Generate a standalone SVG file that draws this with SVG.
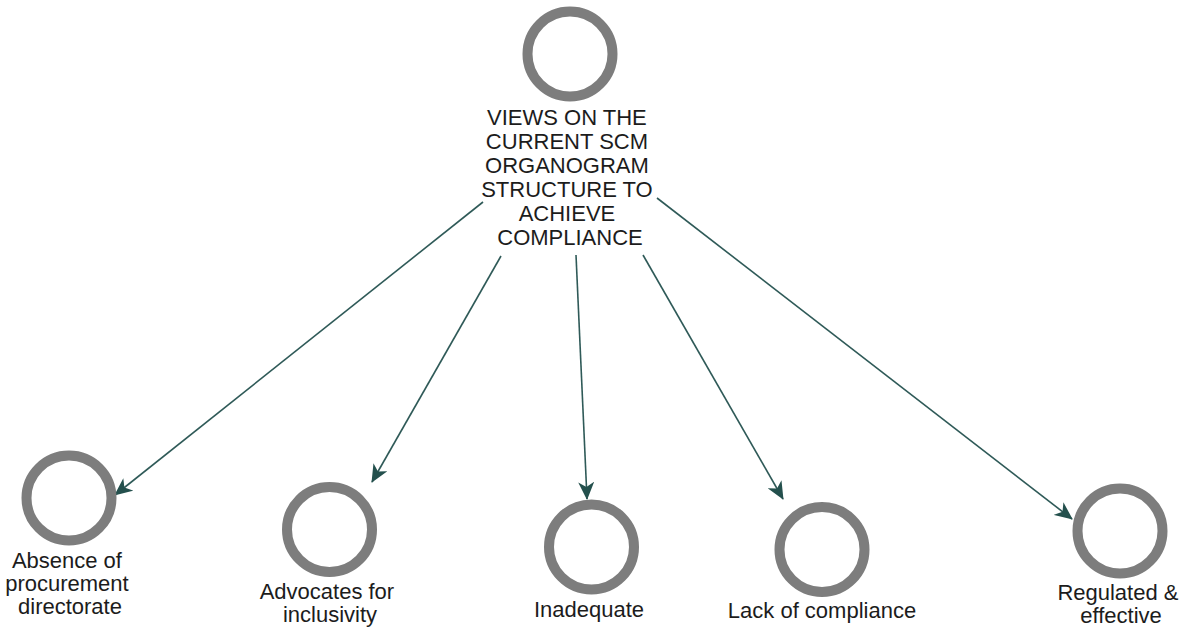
<svg xmlns="http://www.w3.org/2000/svg" width="1192" height="635" viewBox="0 0 1192 635">
  <style>
    .ring { fill: #ffffff; stroke: #7d7d7d; stroke-width: 10; }
    .label { font-family: "Liberation Sans", Arial, sans-serif; font-size: 22px; fill: #1c1c1c; text-anchor: middle; }
    .title { font-size: 22px; }
    .edge { stroke: #2f5a58; stroke-width: 1.6; fill: none; marker-end: url(#arrow); }
  </style>
  <defs>
    <marker id="arrow" markerUnits="userSpaceOnUse" markerWidth="18" markerHeight="16" viewBox="0 0 18 16" refX="17" refY="8" orient="auto">
      <path d="M0,0 L18,8 L0,16 L5,8 Z" fill="#24504d"/>
    </marker>
  </defs>

  <rect width="1192" height="635" fill="#ffffff"/>

  <!-- connectors from the central topic to each view -->
  <g id="connectors">
    <line class="edge" x1="483" y1="202" x2="115" y2="495"/>
    <line class="edge" x1="501" y1="256" x2="372" y2="482"/>
    <line class="edge" x1="576" y1="255" x2="587" y2="499"/>
    <line class="edge" x1="643" y1="255" x2="783" y2="499"/>
    <line class="edge" x1="657" y1="198" x2="1072" y2="519"/>
  </g>

  <g id="node-root">
    <circle class="ring" cx="570" cy="54" r="42.5"/>
    <text class="label title" x="570">
      <tspan x="570" y="125">VIEWS ON THE</tspan>
      <tspan x="570" y="149">CURRENT SCM</tspan>
      <tspan x="570" y="173">ORGANOGRAM</tspan>
      <tspan x="570" y="197">STRUCTURE TO</tspan>
      <tspan x="570" y="221">ACHIEVE</tspan>
      <tspan x="570" y="245">COMPLIANCE</tspan>
    </text>
  </g>

  <g id="node-absence">
    <circle class="ring" cx="69" cy="498" r="42.5"/>
    <text class="label">
      <tspan x="70" y="568">Absence of</tspan>
      <tspan x="70" y="591">procurement</tspan>
      <tspan x="70" y="614">directorate</tspan>
    </text>
  </g>

  <g id="node-advocates">
    <circle class="ring" cx="329.5" cy="529.5" r="42.5"/>
    <text class="label">
      <tspan x="330" y="599">Advocates for</tspan>
      <tspan x="330" y="622">inclusivity</tspan>
    </text>
  </g>

  <g id="node-inadequate">
    <circle class="ring" cx="591.5" cy="547" r="42.5"/>
    <text class="label" x="589" y="617">Inadequate</text>
  </g>

  <g id="node-lack">
    <circle class="ring" cx="822" cy="549.5" r="42.5"/>
    <text class="label" x="822" y="618">Lack of compliance</text>
  </g>

  <g id="node-regulated">
    <circle class="ring" cx="1120" cy="531" r="42.5"/>
    <text class="label">
      <tspan x="1121" y="600">Regulated &amp;</tspan>
      <tspan x="1121" y="623">effective</tspan>
    </text>
  </g>
</svg>
